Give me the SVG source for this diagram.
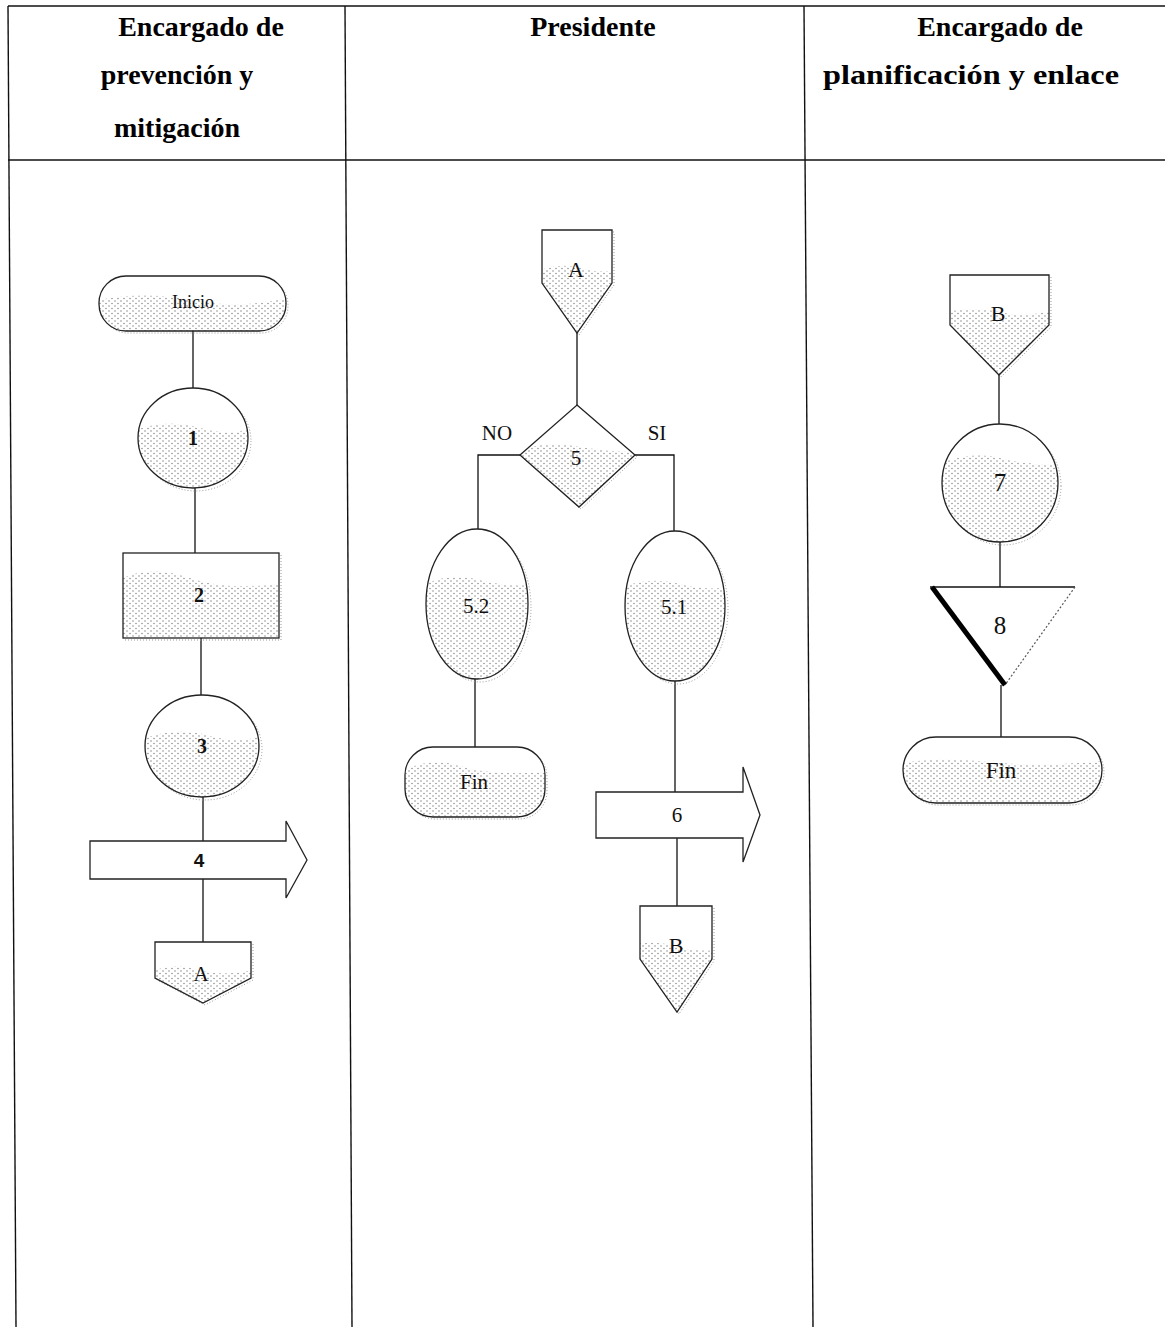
<svg xmlns="http://www.w3.org/2000/svg" width="1165" height="1327" viewBox="0 0 1165 1327">
<style>
.tbl{stroke:#111;stroke-width:1.4;fill:none}
.ln{stroke:#111;stroke-width:1.3;fill:none}
.shp{fill:none;stroke:#222;stroke-width:1.3}
.wht{fill:#fff;stroke:none}
.shd{fill:none;stroke:#999;stroke-width:1;stroke-dasharray:1 2}
.dt{fill:url(#dots)}
.lbl{font-family:"Liberation Serif",serif;fill:#111;text-anchor:middle}
.hdr{font-family:"Liberation Serif",serif;font-weight:bold;font-size:28px;fill:#000;text-anchor:middle}
</style>
<defs>
<pattern id="dots" width="6" height="5" patternUnits="userSpaceOnUse">
<circle cx="1" cy="1" r="0.7" fill="#777"/><circle cx="4" cy="3.5" r="0.7" fill="#777"/>
</pattern>
<clipPath id="c-inicio"><rect x="99" y="276" width="187" height="55" rx="27"/></clipPath>
<clipPath id="c-1"><ellipse cx="193" cy="438" rx="55" ry="50"/></clipPath>
<clipPath id="c-2"><rect x="123" y="553" width="156" height="85"/></clipPath>
<clipPath id="c-3"><ellipse cx="202" cy="746" rx="57" ry="51"/></clipPath>
<clipPath id="c-a1"><polygon points="155,942 251,942 251,978 203,1003 155,978"/></clipPath>
<clipPath id="c-a2"><polygon points="542,230 612,230 612,283 577,333 542,283"/></clipPath>
<clipPath id="c-5"><polygon points="577,405 635,455 579,507 520,455"/></clipPath>
<clipPath id="c-52"><ellipse cx="477" cy="604" rx="51" ry="75"/></clipPath>
<clipPath id="c-51"><ellipse cx="675" cy="606" rx="50" ry="75"/></clipPath>
<clipPath id="c-fin1"><rect x="405" y="747" width="140" height="70" rx="28"/></clipPath>
<clipPath id="c-b1"><polygon points="640,906 712,906 712,959 677,1012 640,959"/></clipPath>
<clipPath id="c-b2"><polygon points="950,275 1049,275 1049,325 999,375 950,325"/></clipPath>
<clipPath id="c-7"><ellipse cx="1000" cy="483" rx="58" ry="59"/></clipPath>
<clipPath id="c-fin2"><rect x="903" y="737" width="199" height="66" rx="33"/></clipPath>
</defs>
<rect width="1165" height="1327" fill="#fff"/>

<g id="table">
<line class="tbl" x1="8" y1="6" x2="1165" y2="6"/>
<line class="tbl" x1="8" y1="160" x2="1165" y2="160"/>
<line class="tbl" x1="8" y1="6" x2="16" y2="1327"/>
<line class="tbl" x1="345" y1="6" x2="352" y2="1327"/>
<line class="tbl" x1="804" y1="6" x2="813" y2="1327"/>
<text class="hdr" x="201" y="36">Encargado de</text>
<text class="hdr" x="177" y="84">prevención y</text>
<text class="hdr" x="177" y="137">mitigación</text>
<text class="hdr" x="593" y="36">Presidente</text>
<text class="hdr" x="1000" y="36">Encargado de</text>
<text class="hdr" x="971" y="84" textLength="296" lengthAdjust="spacingAndGlyphs">planificación y enlace</text>
</g>

<g id="connectors">
<line class="ln" x1="193" y1="331" x2="193" y2="388"/>
<line class="ln" x1="195" y1="488" x2="195" y2="553"/>
<line class="ln" x1="201" y1="638" x2="201" y2="695"/>
<line class="ln" x1="203" y1="797" x2="203" y2="841"/>
<line class="ln" x1="203" y1="879" x2="203" y2="942"/>
<line class="ln" x1="577" y1="333" x2="577" y2="405"/>
<polyline class="ln" points="520,455 478,455 478,529"/>
<polyline class="ln" points="635,455 674,455 674,531"/>
<line class="ln" x1="475" y1="679" x2="475" y2="747"/>
<line class="ln" x1="675" y1="681" x2="675" y2="792"/>
<line class="ln" x1="677" y1="838" x2="677" y2="906"/>
<line class="ln" x1="999" y1="375" x2="999" y2="424"/>
<line class="ln" x1="1000" y1="542" x2="1000" y2="587"/>
<line class="ln" x1="1001" y1="685" x2="1001" y2="737"/>
</g>

<g id="node-inicio">
<rect class="shd" x="101" y="278" width="187" height="55" rx="27"/>
<rect class="wht" x="99" y="276" width="187" height="55" rx="27"/>
<path class="dt" clip-path="url(#c-inicio)" d="M90 302 Q140 290 190 300 T290 297 L290 340 L90 340 Z"/>
<rect class="shp" x="99" y="276" width="187" height="55" rx="27"/>
<text class="lbl" x="193" y="308" font-size="18">Inicio</text>
</g>

<g id="node-1">
<ellipse class="shd" cx="196" cy="441" rx="55" ry="50"/>
<ellipse class="wht" cx="193" cy="438" rx="55" ry="50"/>
<path class="dt" clip-path="url(#c-1)" d="M130 432 Q165 418 200 428 T260 424 L260 500 L130 500 Z"/>
<ellipse class="shp" cx="193" cy="438" rx="55" ry="50"/>
<text class="lbl" x="193" y="445" font-size="20" font-weight="bold">1</text>
</g>

<g id="node-2">
<rect class="shd" x="125" y="555" width="156" height="85"/>
<rect class="wht" x="123" y="553" width="156" height="85"/>
<path class="dt" clip-path="url(#c-2)" d="M118 580 Q150 564 190 578 T290 582 L290 650 L118 650 Z"/>
<rect class="shp" x="123" y="553" width="156" height="85"/>
<text class="lbl" x="199" y="602" font-size="20" font-weight="bold">2</text>
</g>

<g id="node-3">
<ellipse class="shd" cx="205" cy="749" rx="57" ry="51"/>
<ellipse class="wht" cx="202" cy="746" rx="57" ry="51"/>
<path class="dt" clip-path="url(#c-3)" d="M140 740 Q175 726 210 736 T270 732 L270 810 L140 810 Z"/>
<ellipse class="shp" cx="202" cy="746" rx="57" ry="51"/>
<text class="lbl" x="202" y="753" font-size="20" font-weight="bold">3</text>
</g>

<g id="node-4">
<polygon class="shp" points="90,841 286,841 286,821 307,860 286,898 286,879 90,879"/>
<text class="lbl" x="199" y="867" font-size="19" font-weight="bold" style="font-family:'Liberation Sans',sans-serif">4</text>
</g>

<g id="node-a1">
<polygon class="shd" points="157,944 253,944 253,980 205,1005 157,980"/>
<polygon class="wht" points="155,942 251,942 251,978 203,1003 155,978"/>
<path class="dt" clip-path="url(#c-a1)" d="M150 972 Q175 962 200 970 T260 968 L260 1010 L150 1010 Z"/>
<polygon class="shp" points="155,942 251,942 251,978 203,1003 155,978"/>
<text class="lbl" x="201" y="981" font-size="21">A</text>
</g>

<g id="node-a2">
<polygon class="shd" points="544,232 614,232 614,285 579,335 544,285"/>
<polygon class="wht" points="542,230 612,230 612,283 577,333 542,283"/>
<path class="dt" clip-path="url(#c-a2)" d="M535 272 Q560 262 580 268 T620 270 L620 340 L535 340 Z"/>
<polygon class="shp" points="542,230 612,230 612,283 577,333 542,283"/>
<text class="lbl" x="576" y="277" font-size="22">A</text>
</g>

<g id="node-5">
<polygon class="shd" points="579,407 637,457 581,509 522,457"/>
<polygon class="wht" points="577,405 635,455 579,507 520,455"/>
<path class="dt" clip-path="url(#c-5)" d="M515 452 Q545 440 575 446 T640 452 L640 515 L515 515 Z"/>
<polygon class="shp" points="577,405 635,455 579,507 520,455"/>
<text class="lbl" x="576" y="465" font-size="21">5</text>
</g>
<text class="lbl" x="497" y="440" font-size="21">NO</text>
<text class="lbl" x="657" y="440" font-size="21">SI</text>

<g id="node-52">
<ellipse class="shd" cx="480" cy="607" rx="51" ry="75"/>
<ellipse class="wht" cx="477" cy="604" rx="51" ry="75"/>
<path class="dt" clip-path="url(#c-52)" d="M420 586 Q450 572 480 580 T535 584 L535 690 L420 690 Z"/>
<ellipse class="shp" cx="477" cy="604" rx="51" ry="75"/>
<text class="lbl" x="476" y="613" font-size="21">5.2</text>
</g>

<g id="node-51">
<ellipse class="shd" cx="678" cy="609" rx="50" ry="75"/>
<ellipse class="wht" cx="675" cy="606" rx="50" ry="75"/>
<path class="dt" clip-path="url(#c-51)" d="M620 588 Q650 576 680 584 T735 586 L735 690 L620 690 Z"/>
<ellipse class="shp" cx="675" cy="606" rx="50" ry="75"/>
<text class="lbl" x="674" y="614" font-size="21">5.1</text>
</g>

<g id="node-fin1">
<rect class="shd" x="407" y="749" width="140" height="70" rx="28"/>
<rect class="wht" x="405" y="747" width="140" height="70" rx="28"/>
<path class="dt" clip-path="url(#c-fin1)" d="M400 772 Q430 756 460 766 T550 772 L550 825 L400 825 Z"/>
<rect class="shp" x="405" y="747" width="140" height="70" rx="28"/>
<text class="lbl" x="474" y="789" font-size="21">Fin</text>
</g>

<g id="node-6">
<polygon class="shp" points="596,792 743,792 743,767 760,815 743,862 743,838 596,838"/>
<text class="lbl" x="677" y="822" font-size="21">6</text>
</g>

<g id="node-b1">
<polygon class="shd" points="642,908 714,908 714,961 679,1014 642,961"/>
<polygon class="wht" points="640,906 712,906 712,959 677,1012 640,959"/>
<path class="dt" clip-path="url(#c-b1)" d="M635 944 Q655 940 675 946 T720 950 L720 1020 L635 1020 Z"/>
<polygon class="shp" points="640,906 712,906 712,959 677,1012 640,959"/>
<text class="lbl" x="676" y="953" font-size="22">B</text>
</g>

<g id="node-b2">
<polygon class="shd" points="952,277 1051,277 1051,327 1001,377 952,327"/>
<polygon class="wht" points="950,275 1049,275 1049,325 999,375 950,325"/>
<path class="dt" clip-path="url(#c-b2)" d="M945 312 Q975 306 1000 312 T1055 310 L1055 380 L945 380 Z"/>
<polygon class="shp" points="950,275 1049,275 1049,325 999,375 950,325"/>
<text class="lbl" x="998" y="321" font-size="22">B</text>
</g>

<g id="node-7">
<ellipse class="shd" cx="1003" cy="486" rx="58" ry="59"/>
<ellipse class="wht" cx="1000" cy="483" rx="58" ry="59"/>
<path class="dt" clip-path="url(#c-7)" d="M935 466 Q970 450 1000 458 T1065 464 L1065 550 L935 550 Z"/>
<ellipse class="shp" cx="1000" cy="483" rx="58" ry="59"/>
<text class="lbl" x="1000" y="491" font-size="25">7</text>
</g>

<g id="node-8">
<polygon class="wht" points="930,587 1075,587 1005,685"/>
<line class="ln" x1="930" y1="587" x2="1075" y2="587"/>
<line x1="1075" y1="587" x2="1005" y2="685" stroke="#555" stroke-width="1.2" stroke-dasharray="2 2"/>
<line x1="932" y1="587" x2="1005" y2="685" stroke="#000" stroke-width="5"/>
<text class="lbl" x="1000" y="634" font-size="25">8</text>
</g>

<g id="node-fin2">
<rect class="shd" x="905" y="739" width="199" height="66" rx="33"/>
<rect class="wht" x="903" y="737" width="199" height="66" rx="33"/>
<path class="dt" clip-path="url(#c-fin2)" d="M895 764 Q940 756 990 762 T1110 760 L1110 810 L895 810 Z"/>
<rect class="shp" x="903" y="737" width="199" height="66" rx="33"/>
<text class="lbl" x="1001" y="778" font-size="23">Fin</text>
</g>
</svg>
